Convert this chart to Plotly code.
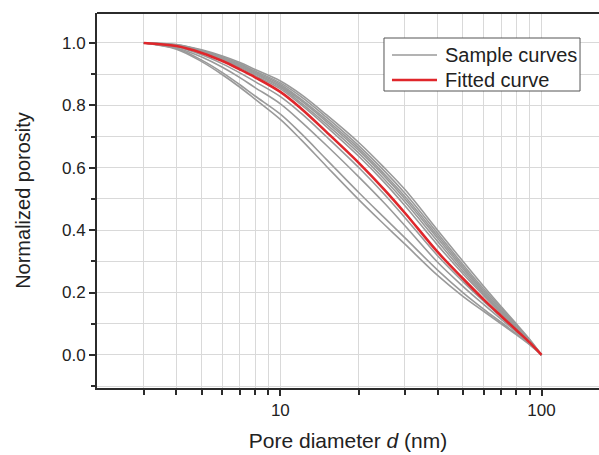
import plotly.graph_objects as go

# Pore diameters (nm)
diameters = [3, 4, 5, 6, 7, 8, 10, 12, 15, 20, 25, 30, 40, 50, 60, 70, 80, 90, 100]

# Fitted curve
fitted = [1.0, 0.99, 0.968, 0.942, 0.915, 0.89, 0.843, 0.79, 0.715, 0.615, 0.53, 0.455, 0.33, 0.245, 0.178, 0.125, 0.08, 0.04, 0.0]

# Sample curves
sample_u1 = [1.0, 0.995, 0.978, 0.958, 0.937, 0.915, 0.878, 0.835, 0.77, 0.68, 0.6, 0.53, 0.4, 0.3, 0.22, 0.155, 0.1, 0.05, 0.0]
sample_u2 = [1.0, 0.994, 0.976, 0.955, 0.933, 0.91, 0.872, 0.828, 0.762, 0.67, 0.59, 0.518, 0.39, 0.29, 0.212, 0.15, 0.097, 0.048, 0.0]
sample_u3 = [1.0, 0.993, 0.975, 0.952, 0.93, 0.906, 0.867, 0.82, 0.754, 0.662, 0.58, 0.508, 0.382, 0.283, 0.206, 0.145, 0.094, 0.046, 0.0]
sample_u4 = [1.0, 0.993, 0.973, 0.95, 0.927, 0.903, 0.862, 0.815, 0.748, 0.655, 0.573, 0.5, 0.374, 0.276, 0.2, 0.14, 0.09, 0.044, 0.0]
sample_u5 = [1.0, 0.992, 0.972, 0.948, 0.924, 0.9, 0.858, 0.808, 0.74, 0.646, 0.563, 0.49, 0.364, 0.268, 0.195, 0.137, 0.088, 0.043, 0.0]
sample_u6 = [1.0, 0.992, 0.97, 0.946, 0.921, 0.896, 0.853, 0.802, 0.732, 0.636, 0.553, 0.478, 0.352, 0.26, 0.19, 0.133, 0.086, 0.042, 0.0]
sample_n1 = [1.0, 0.987, 0.962, 0.933, 0.904, 0.876, 0.828, 0.775, 0.7, 0.6, 0.515, 0.44, 0.318, 0.235, 0.172, 0.122, 0.078, 0.039, 0.0]
sample_l3 = [1.0, 0.984, 0.955, 0.922, 0.889, 0.857, 0.805, 0.748, 0.672, 0.57, 0.487, 0.414, 0.297, 0.22, 0.162, 0.115, 0.074, 0.037, 0.0]
sample_l2 = [1.0, 0.982, 0.945, 0.905, 0.866, 0.83, 0.772, 0.71, 0.627, 0.52, 0.44, 0.375, 0.272, 0.2, 0.147, 0.105, 0.068, 0.034, 0.0]
sample_l1 = [1.0, 0.98, 0.94, 0.898, 0.858, 0.82, 0.755, 0.69, 0.605, 0.497, 0.418, 0.355, 0.255, 0.188, 0.14, 0.1, 0.065, 0.033, 0.0]

samples = [sample_u1, sample_u2, sample_u3, sample_u4, sample_u5, sample_u6,
           sample_n1, sample_l3, sample_l2, sample_l1]

x_major_ticks = [10, 100]
x_minor_ticks = [3, 4, 5, 6, 7, 8, 9, 20, 30, 40, 50, 60, 70, 80, 90]
y_ticks = [0.0, 0.2, 0.4, 0.6, 0.8, 1.0]

legend_labels = ["Sample curves", "Fitted curve"]

FONT = "Liberation Sans, Arial, Helvetica, sans-serif"
GRID = "#d9d9d9"
AXIS = "#2b2b2b"
GRAY = "#9a9a9a"
RED = "#e0262b"

fig = go.Figure()
for s in samples:
    fig.add_trace(go.Scatter(
        x=diameters, y=s, mode="lines", line=dict(color=GRAY, width=1.6, shape="spline"),
        name=legend_labels[0], showlegend=False,
    ))
fig.add_trace(go.Scatter(
    x=diameters, y=fitted, mode="lines", line=dict(color=RED, width=2.6, shape="spline"),
    name=legend_labels[1], showlegend=False,
))

fig.update_layout(
    width=599, height=455,
    margin=dict(l=97, r=0, t=13, b=67),
    paper_bgcolor="white", plot_bgcolor="white",
    font=dict(family=FONT, color="#222222", size=17),
    showlegend=False,
)

fig.update_xaxes(
    type="log", range=[0.298, 2.22],
    tickmode="array", tickvals=x_major_ticks, ticktext=[str(v) for v in x_major_ticks],
    ticks="outside", ticklen=6, tickwidth=1.5, tickcolor=AXIS,
    showgrid=True, gridcolor=GRID, gridwidth=1,
    showline=True, linecolor=AXIS, linewidth=2,
    zeroline=False,
    tickfont=dict(size=17),
    minor=dict(tickmode="array", tickvals=x_minor_ticks, ticks="outside", ticklen=5,
               tickwidth=1.5, tickcolor=AXIS, showgrid=True, gridcolor=GRID, gridwidth=1),
    title=dict(text="Pore diameter <i>d</i> (nm)", font=dict(size=21), standoff=14),
)

fig.update_yaxes(
    range=[-0.106, 1.096],
    tickmode="array", tickvals=y_ticks, ticktext=[f"{v:.1f}" for v in y_ticks],
    ticks="outside", ticklen=6, tickwidth=1.5, tickcolor=AXIS,
    showgrid=True, gridcolor=GRID, gridwidth=1,
    showline=True, linecolor=AXIS, linewidth=2,
    zeroline=False,
    tickfont=dict(size=17),
    minor=dict(dtick=0.1, tick0=0.1, ticks="outside", ticklen=4, tickwidth=1.5,
               tickcolor=AXIS, showgrid=True, gridcolor=GRID, gridwidth=1),
    title=dict(text="Normalized porosity", font=dict(size=20), standoff=26),
)

# top frame line
fig.add_shape(type="line", xref="paper", yref="paper", x0=0, x1=1, y0=1, y1=1,
              line=dict(color=AXIS, width=2))

# custom legend box
fig.add_shape(type="rect", xref="paper", yref="paper", x0=0.5717, x1=0.9622, y0=0.792, y1=0.9333,
              line=dict(color="#555555", width=1), fillcolor="white", layer="above")
legend_rows = [(0.888, GRAY, 1.6), (0.8213, RED, 2.6)]
for label, (yy, col, w) in zip(legend_labels, legend_rows):
    fig.add_shape(type="line", xref="paper", yref="paper", x0=0.5876, x1=0.6773, y0=yy, y1=yy,
                  line=dict(color=col, width=w), layer="above")
    fig.add_annotation(xref="paper", yref="paper", x=0.6892, y=yy, text=label, showarrow=False,
                       xanchor="left", yanchor="middle", font=dict(size=20, family=FONT, color="#222222"))

fig.write_html("out.html")
